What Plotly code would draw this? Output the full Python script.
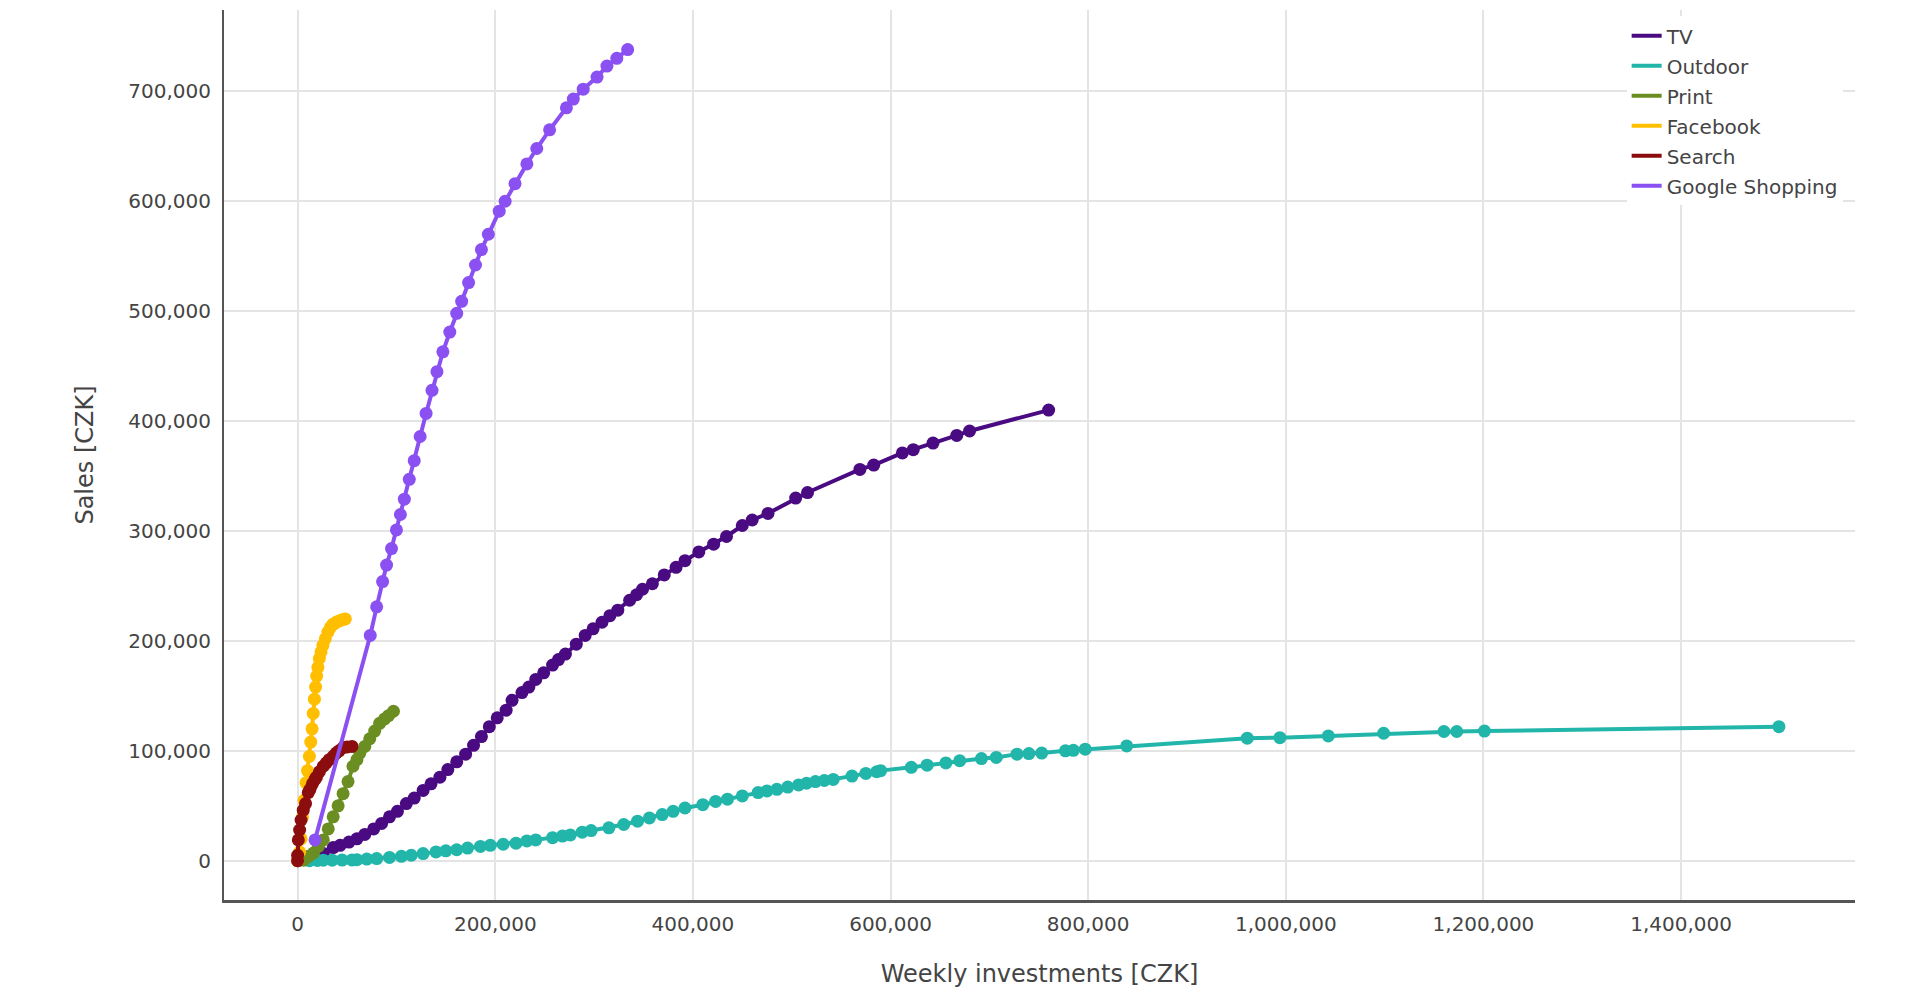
import plotly.graph_objects as go

# weekly investments vs. sales (CZK)
tv_x = [0, 12500, 26000, 36000, 43000, 52000, 60000, 68000, 77000, 85000, 93000, 101000, 110000, 118000,
        127000, 135000, 144000, 152000, 161000, 170000, 178000, 186000, 194000, 202000, 211000, 217000,
        227000, 234000, 241000, 249000, 258000, 264000, 271000, 282000, 291000, 299000, 308000, 316000,
        324000, 336000, 343000, 349000, 359000, 371000, 383000, 392000, 406000, 421000, 434000, 450000,
        460000, 476000, 504000, 516000, 569000, 583000, 612000, 623000, 643000, 667000, 680000, 760000]
tv_y = [0, 4000, 6700, 12000, 14000, 17000, 20000, 24000, 29000, 34000, 40000, 45000, 52000, 57000,
        64000, 70000, 76000, 83000, 90000, 97000, 105000, 113000, 122000, 130000, 137000, 146000,
        153000, 158000, 165000, 171000, 178000, 183000, 188000, 197000, 205000, 211000, 217000, 223000,
        228000, 237000, 242000, 247000, 252000, 260000, 267000, 273000, 281000, 288000, 295000, 305000,
        310000, 316000, 330000, 335000, 356000, 360000, 371000, 374000, 380000, 387000, 391000, 410000]

outdoor_x = [12000, 20000, 26000, 35000, 45000, 55000, 60000, 70000, 80000, 93000, 105000, 115000, 127000,
             140000, 150000, 161000, 172000, 185000, 195000, 208000, 221000, 232000, 241000, 258000,
             268000, 276000, 288000, 297000, 315000, 330000, 344000, 356000, 369000, 380000, 392000,
             410000, 423000, 435000, 450000, 466000, 475000, 485000, 496000, 507000, 515000, 524000,
             533000, 542000, 561000, 575000, 586000, 590000, 621000, 637000, 656000, 670000, 692000,
             707000, 728000, 740000, 753000, 777000, 785000, 797000, 839000, 961000, 994000, 1043000,
             1099000, 1160000, 1173000, 1201000, 1499000]
outdoor_y = [0, 300, 500, 500, 600, 800, 1000, 1500, 2000, 3000, 4000, 5000, 6500,
             8000, 9000, 10000, 11500, 13000, 14000, 15000, 16000, 18000, 19000, 21000,
             22500, 23500, 26000, 27500, 30000, 33000, 36000, 39000, 42000, 45000, 48000,
             51000, 54000, 56000, 59000, 62000, 63500, 65000, 67000, 69000, 70500, 72000,
             73000, 74000, 77000, 79500, 81000, 82000, 85000, 87000, 89000, 91000, 93000,
             94000, 97000, 97500, 98000, 100000, 100500, 101500, 104500, 111500, 112000, 113600,
             116000, 117600, 117600, 118000, 122000]

print_x = [0, 6000, 11000, 16000, 21000, 26000, 31000, 36000, 41000, 46000, 51000, 56000, 60000,
           63000, 68000, 73000, 78000, 83000, 88000, 92000, 97000]
print_y = [0, 500, 4000, 7000, 13000, 19000, 29000, 40000, 50000, 61000, 72000, 86000, 92000,
           98000, 104000, 111000, 118000, 125000, 129000, 132000, 136000]

facebook_x = [0, 2000, 3500, 5000, 6500, 8500, 10000, 11900, 13300, 14600, 15800, 17000, 18200, 19300,
              20500, 22000, 23700, 25600, 28000, 30600, 33000, 35500, 37600, 40000, 43000, 46000, 48300]
facebook_y = [0, 8000, 20000, 40000, 55000, 71000, 82000, 95000, 108000, 120000, 134000, 147000, 158000,
              168000, 176000, 184000, 190000, 196000, 202000, 208000, 212000, 215000, 216000, 217500,
              218500, 219500, 220000]

search_x = [0, 0, 700, 2000, 3500, 5700, 8000, 10800, 12500, 15000, 17600, 19000, 22000, 26000, 29000,
            32000, 36000, 39000, 42000, 46000, 50000, 55000]
search_y = [0, 5000, 19000, 28000, 37000, 46000, 52000, 62000, 65000, 70000, 74000, 76000, 81000, 86000,
            89000, 92000, 95000, 98000, 100000, 103000, 103500, 104000]

gs_x = [17600, 73500, 80000, 86000, 90000, 95000, 100000, 104000, 108000, 113000, 118000, 124000, 130000,
        136000, 141000, 147000, 154000, 161000, 166000, 173000, 180000, 186000, 193000, 204000, 210000,
        220000, 232000, 242000, 255000, 272000, 279000, 289000, 303000, 313000, 323000, 334000]
gs_y = [19000, 205000, 231000, 254000, 269000, 284000, 301000, 315000, 329000, 347000, 364000, 386000, 407000,
        428000, 445000, 463000, 481000, 498000, 509000, 526000, 542000, 556000, 570000, 591000, 600000,
        616000, 634000, 648000, 665000, 685000, 693000, 702000, 713000, 723000, 730000, 738000]

channels = ['TV', 'Outdoor', 'Print', 'Facebook', 'Search', 'Google Shopping']
xs = [tv_x, outdoor_x, print_x, facebook_x, search_x, gs_x]
ys = [tv_y, outdoor_y, print_y, facebook_y, search_y, gs_y]
colors = ['#4a0a82', '#22b5aa', '#6b8e23', '#ffbf00', '#8b0d0d', '#8b50f2']

fig = go.Figure()
for name, x, y, c in zip(channels, xs, ys, colors):
    fig.add_trace(go.Scatter(x=x, y=y, mode='lines+markers', name=name, showlegend=False,
                             line=dict(color=c, width=4), marker=dict(color=c, size=13)))
# legend shows only the line
for name, c in zip(channels, colors):
    fig.add_trace(go.Scatter(x=[None], y=[None], mode='lines', name=name, legendgroup=name,
                             line=dict(color=c, width=4)))

# page body has an 8px margin, so the figure is a bit smaller than the window
fig.update_layout(
    width=1904, height=980,
    margin=dict(l=216, r=57, t=2, b=88),
    plot_bgcolor='white', paper_bgcolor='white',
    font=dict(family='DejaVu Sans', size=20, color='#444'),
    legend=dict(x=0.86, y=0.993, xanchor='left', yanchor='top', bgcolor='white',
                font=dict(family='DejaVu Sans', size=20, color='#444'), tracegroupgap=1),
)
fig.update_xaxes(title=dict(text='Weekly investments [CZK]', font=dict(size=24), standoff=31),
                 range=[-74500, 1576000], tickvals=[0, 200000, 400000, 600000, 800000, 1000000, 1200000, 1400000],
                 tickformat=',', showgrid=True, gridcolor='#e4e4e4', gridwidth=1.5, zeroline=False,
                 showline=True, linecolor='#555', linewidth=2.5, ticks='', ticklabelstandoff=4)
fig.update_yaxes(title=dict(text='Sales [CZK]', font=dict(size=24), standoff=28),
                 range=[-35700, 774000], dtick=100000, tickformat=',', showgrid=True, gridcolor='#e4e4e4',
                 gridwidth=1.5, zeroline=False, showline=True, linecolor='#555', linewidth=2,
                 ticks='', ticklabelstandoff=7)
fig.write_html('out.html')
